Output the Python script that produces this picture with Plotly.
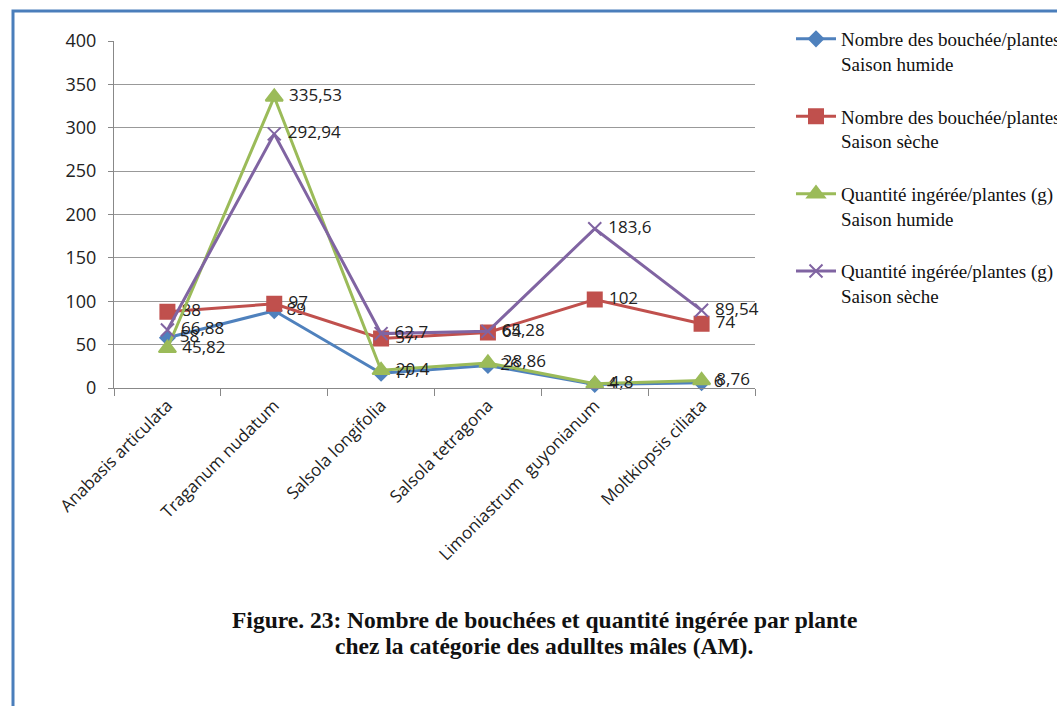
import plotly.graph_objects as go

# Données
plantes = ['Anabasis articulata', 'Traganum nudatum', 'Salsola longifolia',
           'Salsola tetragona', 'Limoniastrum  guyonianum', 'Moltkiopsis ciliata']
bouchees_humide = [58, 89, 17, 26, 4, 6]
bouchees_seche = [88, 97, 57, 64, 102, 74]
quantite_humide = [45.82, 335.53, 20.4, 28.86, 4.8, 8.76]
quantite_seche = [66.88, 292.94, 62.7, 65.28, 183.6, 89.54]

noms = ['Nombre des bouchée/plantes<br>Saison humide',
        'Nombre des bouchée/plantes<br>Saison sèche',
        'Quantité ingérée/plantes (g)<br>Saison humide',
        'Quantité ingérée/plantes (g)<br>Saison sèche']

fmt = lambda v: ' ' + f"{v:g}".replace('.', ',')

series = [
    (bouchees_humide, '#4F81BD', 'diamond', 11),
    (bouchees_seche, '#C0504D', 'square', 14),
    (quantite_humide, '#9BBB59', 'triangle-up', 15),
    (quantite_seche, '#8064A2', 'x-thin-open', 13),
]

fig = go.Figure()
for i, (vals, col, sym, sz) in enumerate(series):
    fig.add_trace(go.Scatter(
        x=plantes, y=vals, name=noms[i], legendgroup=str(i),
        mode='lines+markers+text',
        line=dict(color=col, width=3),
        marker=dict(symbol=sym, size=sz, color=col, line=dict(color=col, width=2)),
        text=[fmt(v) for v in vals], textposition='middle right',
        textfont=dict(family='Open Sans, Liberation Sans', size=17, color='#222'),
        cliponaxis=False
    ))

# figure un peu plus large que la fenêtre : la légende est coupée à droite comme dans l'original
FW, FH = 1090, 706
L, T, W, H = 114, 41, 641, 347

fig.update_layout(
    width=FW, height=FH,
    margin=dict(l=L, r=FW - L - W, t=T, b=FH - T - H),
    plot_bgcolor='white', paper_bgcolor='white',
    font=dict(family='Open Sans, Liberation Sans', size=16, color='#222'),
    showlegend=True,
    legend=dict(x=(791 - L) / W, y=(388 - 20) / H, xanchor='left', yanchor='top',
                font=dict(family='Liberation Serif', size=19, color='#111'),
                valign='top', tracegroupgap=25, itemwidth=40,
                bgcolor='rgba(0,0,0,0)'),
    xaxis=dict(type='category', showgrid=False, showline=True, linecolor='#888',
               linewidth=1, ticks='outside', tickson='boundaries', ticklen=7,
               tickcolor='#888', tickangle=-45, tickfont=dict(size=17),
               range=[-0.5, 5.5]),
    yaxis=dict(range=[0, 400], dtick=50, showgrid=True, gridcolor='#999',
               gridwidth=1, showline=True, linecolor='#888', zeroline=False,
               ticks='outside', ticklen=5, tickcolor='#888',
               tickfont=dict(size=18), ticklabelstandoff=8),
    annotations=[
        dict(text='<b>Figure. 23: Nombre de bouchées et quantité ingérée par plante</b>',
             x=(544 - L) / W, y=(388 - 620) / H, xref='paper', yref='paper',
             xanchor='center', yanchor='middle', showarrow=False,
             font=dict(family='Liberation Serif', size=23.5, color='#111')),
        dict(text='<b>chez la catégorie des adulltes mâles (AM).</b>',
             x=(544 - L) / W, y=(388 - 646) / H, xref='paper', yref='paper',
             xanchor='center', yanchor='middle', showarrow=False,
             font=dict(family='Liberation Serif', size=23.5, color='#111'))],
    shapes=[dict(type='rect', xref='paper', yref='paper',
                 x0=(13 - L) / W, x1=(1120 - L) / W,
                 y0=(388 - 730) / H, y1=(388 - 11) / H,
                 line=dict(color='#4A7EBB', width=3), layer='below')]
)

fig.write_html('out.html', config={'displayModeBar': False},
               post_script="document.body.style.margin='0';document.body.style.overflow='hidden';")
